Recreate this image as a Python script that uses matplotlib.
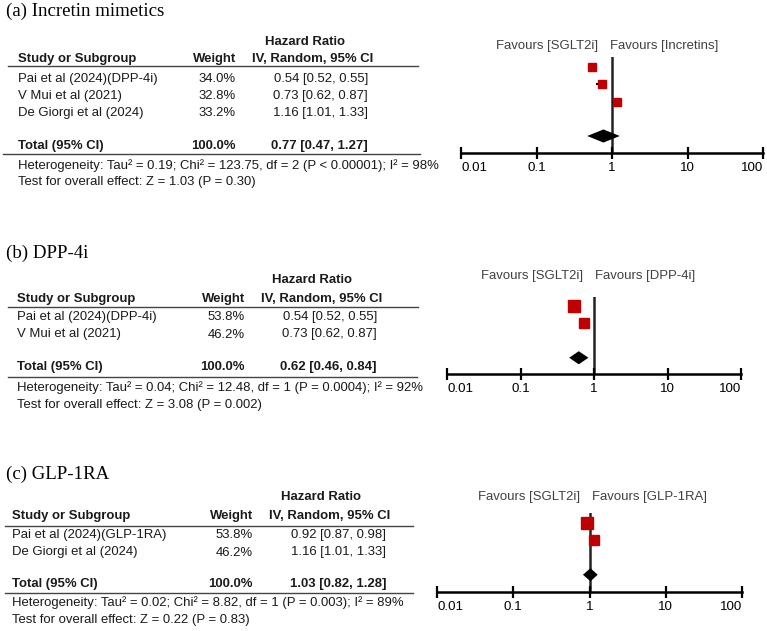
import matplotlib
matplotlib.use('Agg')
import matplotlib.pyplot as plt

# ---- data ----
a_studies = ['Pai et al (2024)(DPP-4i)', 'V Mui et al (2021)', 'De Giorgi et al (2024)']
a_weights = [34.0, 32.8, 33.2]
a_hr = [0.54, 0.73, 1.16]
a_lo = [0.52, 0.62, 1.01]
a_hi = [0.55, 0.87, 1.33]
a_total = [0.77, 0.47, 1.27]
a_het = 'Heterogeneity: Tau² = 0.19; Chi² = 123.75, df = 2 (P < 0.00001); I² = 98%'
a_test = 'Test for overall effect: Z = 1.03 (P = 0.30)'

b_studies = ['Pai et al (2024)(DPP-4i)', 'V Mui et al (2021)']
b_weights = [53.8, 46.2]
b_hr = [0.54, 0.73]
b_lo = [0.52, 0.62]
b_hi = [0.55, 0.87]
b_total = [0.62, 0.46, 0.84]
b_het = 'Heterogeneity: Tau² = 0.04; Chi² = 12.48, df = 1 (P = 0.0004); I² = 92%'
b_test = 'Test for overall effect: Z = 3.08 (P = 0.002)'

c_studies = ['Pai et al (2024)(GLP-1RA)', 'De Giorgi et al (2024)']
c_weights = [53.8, 46.2]
c_hr = [0.92, 1.16]
c_lo = [0.87, 1.01]
c_hi = [0.98, 1.33]
c_total = [1.03, 0.82, 1.28]
c_het = 'Heterogeneity: Tau² = 0.02; Chi² = 8.82, df = 1 (P = 0.003); I² = 89%'
c_test = 'Test for overall effect: Z = 0.22 (P = 0.83)'

titles = ['(a) Incretin mimetics', '(b) DPP-4i', '(c) GLP-1RA']
comparators = ['Incretins', 'DPP-4i', 'GLP-1RA']
ticks = [0.01, 0.1, 1, 10, 100]
tick_labels = ['0.01', '0.1', '1', '10', '100']

panels = [
    (a_studies, a_weights, a_hr, a_lo, a_hi, a_total, a_het, a_test),
    (b_studies, b_weights, b_hr, b_lo, b_hi, b_total, b_het, b_test),
    (c_studies, c_weights, c_hr, c_lo, c_hi, c_total, c_het, c_test),
]

# ---- layout (pixels) ----
W, H = 767, 631
layout = [
    dict(title_y=11, hr_x=305, hr_y=42, hdr_y=59, study_x=18, w_x=236, ci_hx=313, ci_x=368,
         l1=(66, 8, 418), row0=79, step=17, tot_y=146, l2=(154, 3, 420), het_y=166, test_y=182,
         fx0=461, fx1=763, ax_y=153, top_y=57, frow0=67, fav_y=46, fav_l=598, fav_r=610),
    dict(title_y=253, hr_x=312, hr_y=280, hdr_y=299, study_x=17, w_x=245, ci_hx=322, ci_x=377,
         l1=(307, 8, 418), row0=317, step=17.5, tot_y=367, l2=(377, 8, 417), het_y=388, test_y=405,
         fx0=447, fx1=741, ax_y=374, top_y=297, frow0=306, fav_y=276, fav_l=583, fav_r=595),
    dict(title_y=474, hr_x=321, hr_y=497, hdr_y=516, study_x=12, w_x=253, ci_hx=330, ci_x=386,
         l1=(526, 5, 413), row0=535, step=17.5, tot_y=584, l2=(593, 5, 413), het_y=603, test_y=620,
         fx0=437, fx1=742, ax_y=592, top_y=513, frow0=523, fav_y=497, fav_l=580, fav_r=592),
]
row_px = 17.25

plt.rcParams['font.family'] = ['Liberation Sans', 'DejaVu Sans']
fs = 9.45
txt = '#1a1a1a'

fig = plt.figure(figsize=(W / 100, H / 100), dpi=100)
fig.patch.set_facecolor('white')

ov = fig.add_axes([0, 0, 1, 1])
ov.set_xlim(0, W)
ov.set_ylim(H, 0)
ov.axis('off')

for p, L, title, comp in zip(panels, layout, titles, comparators):
    studies, weights, hr, lo, hi, total, het, test = p

    # table
    ov.text(6, L['title_y'], title, family='Liberation Serif', fontsize=13.6, va='center', color='black')
    ov.text(L['hr_x'], L['hr_y'], 'Hazard Ratio', fontsize=fs, weight='bold', ha='center', va='center', color=txt)
    ov.text(L['study_x'], L['hdr_y'], 'Study or Subgroup', fontsize=fs, weight='bold', va='center', color=txt)
    ov.text(L['w_x'], L['hdr_y'], 'Weight', fontsize=fs, weight='bold', ha='right', va='center', color=txt)
    ov.text(L['ci_hx'], L['hdr_y'], 'IV, Random, 95% CI', fontsize=fs, weight='bold', ha='center', va='center', color=txt)
    y, x0, x1 = L['l1']
    ov.plot([x0, x1], [y, y], color='#444444', lw=1.0)
    for i, s in enumerate(studies):
        ry = L['row0'] + i * L['step']
        ov.text(L['study_x'], ry, s, fontsize=fs, va='center', color=txt)
        ov.text(L['w_x'], ry, f'{weights[i]:.1f}%', fontsize=fs, ha='right', va='center', color=txt)
        ov.text(L['ci_x'], ry, f'{hr[i]:.2f} [{lo[i]:.2f}, {hi[i]:.2f}]', fontsize=fs, ha='right', va='center', color=txt)
    ov.text(L['study_x'], L['tot_y'], 'Total (95% CI)', fontsize=fs, weight='bold', va='center', color=txt)
    ov.text(L['w_x'], L['tot_y'], f'{sum(weights):.1f}%', fontsize=fs, weight='bold', ha='right', va='center', color=txt)
    ov.text(L['ci_x'], L['tot_y'], f'{total[0]:.2f} [{total[1]:.2f}, {total[2]:.2f}]', fontsize=fs,
            weight='bold', ha='right', va='center', color=txt)
    y, x0, x1 = L['l2']
    ov.plot([x0, x1], [y, y], color='#444444', lw=1.0)
    ov.text(L['study_x'], L['het_y'], het, fontsize=fs, va='center', color=txt)
    ov.text(L['study_x'], L['test_y'], test, fontsize=fs, va='center', color=txt)

    # favours labels
    ov.text(L['fav_l'], L['fav_y'], 'Favours [SGLT2i]', fontsize=fs, ha='right', va='center', color='#404040')
    ov.text(L['fav_r'], L['fav_y'], f'Favours [{comp}]', fontsize=fs, ha='left', va='center', color='#404040')

    # forest plot
    ax = fig.add_axes([L['fx0'] / W, (H - L['ax_y']) / H,
                       (L['fx1'] - L['fx0']) / W, (L['ax_y'] - L['top_y']) / H])
    ax.set_xscale('log')
    ax.set_xlim(ticks[0], ticks[-1])
    ax.set_ylim((L['ax_y'] - L['frow0']) / row_px, (L['top_y'] - L['frow0']) / row_px)
    ax.patch.set_alpha(0)
    for sp in ['top', 'left', 'right']:
        ax.spines[sp].set_visible(False)
    ax.spines['bottom'].set_linewidth(1.8)
    ax.set_yticks([])
    ax.set_xticks(ticks)
    ax.set_xticklabels(tick_labels)
    ax.minorticks_off()
    ax.tick_params(axis='x', direction='inout', length=9, width=1.6, pad=2, labelsize=9.6, colors='black')
    labs = ax.get_xticklabels()
    labs[0].set_horizontalalignment('left')
    labs[-1].set_horizontalalignment('right')
    ax.axvline(1, color='#222222', lw=1.8, zorder=1)

    rows = list(range(len(studies)))
    ax.hlines(rows, lo, hi, color='black', lw=1.5, zorder=2)
    for r, h, w in zip(rows, hr, weights):
        ax.plot(h, r, marker='s', markersize=0.155 * w, color='#c00000', mec='#c00000', zorder=3)
    ty = len(studies) + 1
    dh = 0.38
    ax.fill([total[1], total[0], total[2], total[0]], [ty, ty - dh, ty, ty + dh],
            color='black', zorder=3, lw=0)

fig.savefig('out.png', dpi=100, facecolor='white')
